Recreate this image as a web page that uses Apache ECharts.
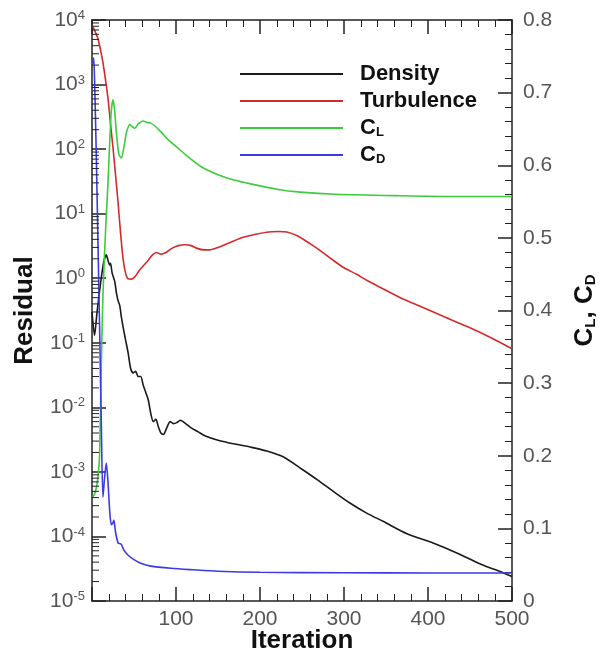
<!DOCTYPE html>
<html>
<head>
<meta charset="utf-8">
<script src="https://cdn.jsdelivr.net/npm/echarts@6/dist/echarts.min.js"></script>
<style>
  html, body { margin: 0; padding: 0; background: #fff; }
  #chart { width: 600px; height: 654px; }
</style>
</head>
<body>
<div id="chart"></div>
<script>
// residual histories (left, log axis)
const densityIter = [0, 3, 6, 10, 14, 17, 19, 21, 22, 24, 27, 29, 31, 33, 35, 38, 40, 43, 46, 49, 52, 55, 58, 61, 64, 67, 70, 73, 76, 79, 82, 85, 89, 93, 97, 101, 105, 110, 118, 126, 135, 150, 170, 190, 208, 228, 250, 268, 290, 307, 327, 347, 375, 406, 435, 465, 485, 500]
const densityRes = [0.3, 0.13, 0.3, 0.8, 1.8, 2.3, 1.9, 1.6, 1.7, 1.2, 0.9, 0.6, 0.45, 0.38, 0.25, 0.15, 0.11, 0.07, 0.04, 0.034, 0.036, 0.03, 0.03, 0.022, 0.017, 0.013, 0.008, 0.006, 0.0065, 0.005, 0.004, 0.0038, 0.0048, 0.006, 0.0056, 0.0058, 0.0063, 0.0058, 0.0048, 0.0042, 0.0036, 0.0031, 0.0027, 0.0024, 0.0021, 0.0017, 0.0011, 0.00076, 0.00047, 0.00033, 0.00023, 0.00017, 0.00011, 0.000079, 0.000055, 0.000036, 0.000029, 0.000024]

const turbIter = [0, 4, 7, 10, 13, 16, 19, 22, 25, 28, 31, 34, 37, 40, 43, 47, 51, 56, 62, 67, 72, 77, 82, 88, 95, 103, 111, 118, 125, 133, 140, 150, 165, 180, 195, 210, 221, 232, 245, 260, 275, 287, 300, 315, 327, 345, 367, 390, 420, 446, 475, 500]
const turbRes = [8300, 6500, 5200, 3500, 2200, 1200, 620, 250, 105, 40, 15, 5, 2, 1.2, 0.98, 0.97, 1.05, 1.3, 1.6, 1.9, 2.3, 2.5, 2.35, 2.5, 2.9, 3.2, 3.3, 3.2, 2.9, 2.75, 2.75, 3.0, 3.6, 4.3, 4.8, 5.2, 5.3, 5.2, 4.5, 3.4, 2.5, 1.9, 1.45, 1.15, 0.93, 0.7, 0.5, 0.37, 0.25, 0.18, 0.12, 0.081]

// force coefficients (right axis)
const clIter = [1, 4, 7, 9, 11, 13, 15, 17, 19, 21, 23, 25, 27, 29, 32, 35, 38, 41, 45, 48, 51, 55, 61, 65, 70, 76, 82, 90, 100, 114, 130, 150, 168, 190, 220, 248, 290, 367, 430, 500]
const clVal = [0.143, 0.15, 0.17, 0.2, 0.32, 0.42, 0.48, 0.53, 0.575, 0.63, 0.675, 0.69, 0.675, 0.645, 0.615, 0.61, 0.625, 0.645, 0.656, 0.653, 0.651, 0.657, 0.661, 0.659, 0.658, 0.653, 0.646, 0.636, 0.626, 0.612, 0.598, 0.587, 0.58, 0.574, 0.567, 0.563, 0.56, 0.558, 0.557, 0.557]

const cdIter = [1, 2, 3, 5, 7, 9, 11, 13, 15, 17, 19, 21, 23, 25, 26, 28, 31, 33, 35, 38, 43, 50, 58, 70, 94, 120, 150, 200, 300, 400, 500]
const cdVal = [0.74, 0.748, 0.72, 0.62, 0.5, 0.38, 0.25, 0.143, 0.17, 0.19, 0.165, 0.125, 0.105, 0.108, 0.111, 0.095, 0.08, 0.079, 0.078, 0.07, 0.063, 0.057, 0.052, 0.048, 0.045, 0.043, 0.041, 0.0395, 0.0388, 0.0386, 0.0385]

// minor ticks of the log axis: 2..9 in every decade
const logMantissas = [2, 3, 4, 5, 6, 7, 8, 9]
const logDecades = [-5, -4, -3, -2, -1, 0, 1, 2, 3]

const zip = (xs, ys) => xs.map((x, i) => [x, ys[i]])

const axisColor = '#222'
const labelColor = '#555'
const labelFont = 'Liberation Sans, Arial, sans-serif'

const minorLogTicks = []
logDecades.forEach(d => {
  logMantissas.forEach(m => minorLogTicks.push([0, m * Math.pow(10, d)]))
})

const chart = echarts.init(document.getElementById('chart'))

const option = {
  animation: false,
  backgroundColor: '#fff',
  textStyle: { fontFamily: labelFont },
  grid: { left: 92, right: 88, top: 20, bottom: 53, outerBoundsMode: 'none', containLabel: false },
  legend: {
    orient: 'vertical',
    left: 235,
    top: 58,
    itemWidth: 103,
    itemHeight: 2,
    itemGap: 5,
    icon: 'rect',
    data: ['Density', 'Turbulence', 'CL', 'CD'],
    formatter: function (name) {
      if (name === 'CL') return '{m|C}{s|L}'
      if (name === 'CD') return '{m|C}{s|D}'
      return '{m|' + name + '}'
    },
    textStyle: {
      padding: [0, 0, 0, 12],
      rich: {
        m: { fontSize: 22, lineHeight: 22, fontWeight: 'bold', color: '#111', fontFamily: labelFont },
        s: { fontSize: 13, lineHeight: 6, verticalAlign: 'bottom', fontWeight: 'bold', color: '#111', fontFamily: labelFont }
      }
    }
  },
  xAxis: [
    {
      type: 'value',
      min: 0,
      max: 500,
      interval: 100,
      position: 'bottom',
      name: 'Iteration',
      nameLocation: 'middle',
      nameGap: 27,
      nameMoveOverlap: false,
      nameTextStyle: { fontSize: 26, fontWeight: 'bold', color: '#111', verticalAlign: 'top' },
      axisLine: { onZero: false, lineStyle: { color: axisColor, width: 1.5 } },
      axisTick: { inside: true, length: 14, lineStyle: { color: axisColor, width: 1.5 } },
      minorTick: { show: true, splitNumber: 5, length: 7, lineStyle: { color: axisColor } },
      axisLabel: {
        fontSize: 21, color: labelColor, margin: 8,
        formatter: v => (v === 0 ? '' : String(v))
      },
      splitLine: { show: false }
    },
    {
      type: 'value',
      min: 0,
      max: 500,
      interval: 100,
      position: 'top',
      axisLine: { onZero: false, lineStyle: { color: axisColor, width: 1.5 } },
      axisTick: { inside: true, length: 14, lineStyle: { color: axisColor, width: 1.5 } },
      minorTick: { show: true, splitNumber: 5, length: 7, lineStyle: { color: axisColor } },
      axisLabel: { show: false },
      splitLine: { show: false }
    }
  ],
  yAxis: [
    {
      type: 'log',
      logBase: 10,
      min: 1e-5,
      max: 1e4,
      position: 'left',
      name: 'Residual',
      nameLocation: 'middle',
      nameRotate: 90,
      nameGap: 54,
      nameMoveOverlap: false,
      nameTextStyle: { fontSize: 26, fontWeight: 'bold', color: '#111' },
      axisLine: { show: true, onZero: false, lineStyle: { color: axisColor, width: 1.5 } },
      axisTick: { inside: true, length: 14, lineStyle: { color: axisColor, width: 1.5 } },
      axisLabel: {
        margin: 7,
        formatter: function (v) {
          const e = Math.round(Math.log10(v))
          return '{b|10}{e|' + e + '}'
        },
        rich: {
          b: { fontSize: 21, lineHeight: 22, color: labelColor, fontFamily: labelFont },
          e: { fontSize: 13, lineHeight: 12, verticalAlign: 'top', color: labelColor, fontFamily: labelFont }
        }
      },
      splitLine: { show: false }
    },
    {
      type: 'value',
      min: 0,
      max: 0.8,
      interval: 0.1,
      position: 'right',
      name: '{m|C}{s|L}{m|, C}{s|D}',
      nameLocation: 'middle',
      nameRotate: 90,
      nameGap: 60,
      nameMoveOverlap: false,
      nameTextStyle: {
        rich: {
          m: { fontSize: 26, lineHeight: 26, fontWeight: 'bold', color: '#111', fontFamily: labelFont },
          s: { fontSize: 15, lineHeight: 6, verticalAlign: 'bottom', fontWeight: 'bold', color: '#111', fontFamily: labelFont }
        }
      },
      axisLine: { show: true, onZero: false, lineStyle: { color: axisColor, width: 1.5 } },
      axisTick: { inside: true, length: 14, lineStyle: { color: axisColor, width: 1.5 } },
      minorTick: { show: true, splitNumber: 5, length: 7, lineStyle: { color: axisColor } },
      axisLabel: {
        fontSize: 21, color: labelColor, margin: 11,
        formatter: v => (v === 0 ? '0' : v.toFixed(1))
      },
      splitLine: { show: false }
    }
  ],
  series: [
    {
      name: 'Density', type: 'line', xAxisIndex: 0, yAxisIndex: 0,
      data: zip(densityIter, densityRes),
      showSymbol: false, smooth: 0.25,
      lineStyle: { width: 1.6, color: '#1a1a1a' }, itemStyle: { color: '#1a1a1a' }
    },
    {
      name: 'Turbulence', type: 'line', xAxisIndex: 0, yAxisIndex: 0,
      data: zip(turbIter, turbRes),
      showSymbol: false, smooth: 0.25,
      lineStyle: { width: 1.6, color: '#d42a2a' }, itemStyle: { color: '#d42a2a' }
    },
    {
      name: 'CL', type: 'line', xAxisIndex: 0, yAxisIndex: 1,
      data: zip(clIter, clVal),
      showSymbol: false, smooth: 0.25,
      lineStyle: { width: 1.6, color: '#3ccc3c' }, itemStyle: { color: '#3ccc3c' }
    },
    {
      name: 'CD', type: 'line', xAxisIndex: 0, yAxisIndex: 1,
      data: zip(cdIter, cdVal),
      showSymbol: false, smooth: 0.25,
      lineStyle: { width: 1.6, color: '#3a3ae6' }, itemStyle: { color: '#3a3ae6' }
    },
    {
      // log-axis minor ticks placed through the axis scale
      type: 'custom', xAxisIndex: 0, yAxisIndex: 0,
      silent: true, clip: false, z: 5,
      data: minorLogTicks,
      renderItem: function (params, api) {
        const p = api.coord([0, api.value(1)])
        return {
          type: 'line',
          shape: { x1: p[0], y1: p[1], x2: p[0] + 7, y2: p[1] },
          style: { stroke: axisColor, lineWidth: 1 }
        }
      }
    }
  ]
}

chart.setOption(option)
</script>
</body>
</html>
